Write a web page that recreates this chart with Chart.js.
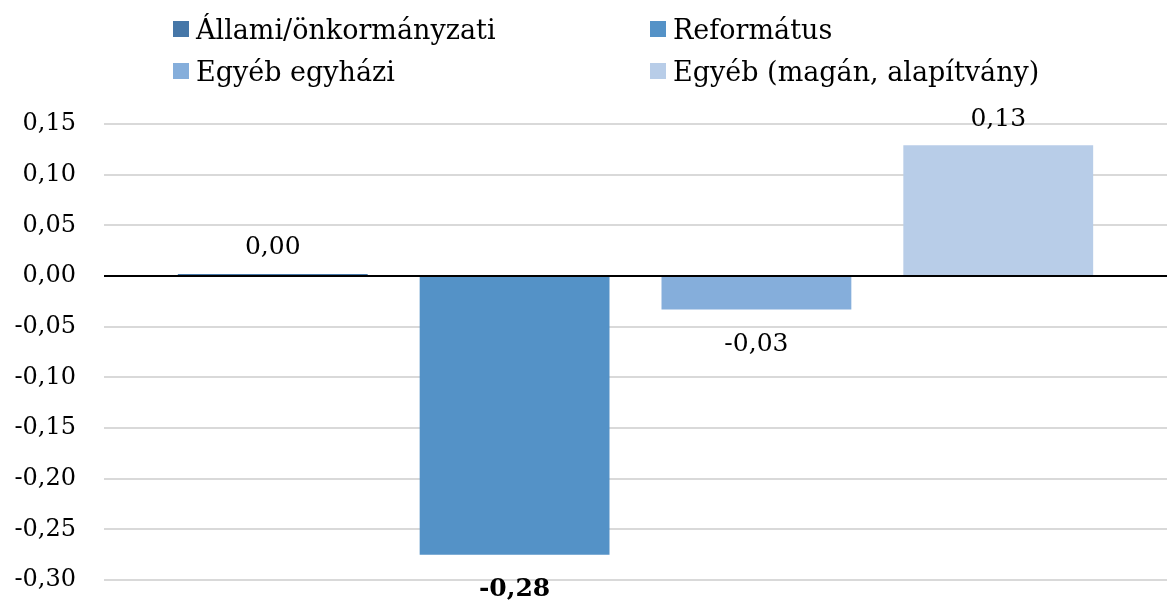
<!DOCTYPE html>
<html lang="hu">
<head>
<meta charset="utf-8">
<script src="https://cdn.jsdelivr.net/npm/chart.js@4/dist/chart.umd.min.js"></script>
<style>
    html, body { margin: 0; padding: 0; background: #fff; }
    #wrap { position: relative; width: 1167px; height: 601px; }
    #legend {
        position: absolute; left: 173px; top: 13px;
        display: grid; grid-template-columns: 477px 400px; row-gap: 10px;
        font-family: "DejaVu Serif", serif; font-size: 27px; color: #000;
    }
    .item { display: flex; align-items: center; height: 32px; white-space: nowrap; }
    .box { width: 16px; height: 16px; margin-right: 7px; }
</style>
</head>
<body>
<div id="wrap">
    <canvas id="chart" width="1167" height="601"></canvas>
    <div id="legend"></div>
</div>
<script>
// Adatok
const categories = [''];
const seriesNames = ['Állami/önkormányzati', 'Református', 'Egyéb egyházi', 'Egyéb (magán, alapítvány)'];
const seriesValues = [0.002, -0.275, -0.033, 0.129];
const yTicks = [0.15, 0.10, 0.05, 0.00, -0.05, -0.10, -0.15, -0.20, -0.25, -0.30];

const colors = ['#4677a8', '#5492c7', '#85aedb', '#b8cde8'];
const boldLabel = [false, true, false, false];

const fmt = v => (Math.round(v * 100) / 100).toFixed(2).replace('.', ',');
const FONT = '"DejaVu Serif", serif';

// Értékcímkék a hasábokon
const valueLabels = {
    id: 'valueLabels',
    afterDatasetsDraw(chart) {
        const ctx = chart.ctx;
        ctx.save();
        ctx.fillStyle = '#000';
        ctx.textAlign = 'center';
        ctx.textBaseline = 'middle';
        chart.data.datasets.forEach((ds, i) => {
            const meta = chart.getDatasetMeta(i);
            meta.data.forEach((bar, j) => {
                const v = ds.data[j];
                ctx.font = (boldLabel[i] ? 'bold ' : '') + '25px ' + FONT;
                const y = v >= 0 ? bar.y - 26 : bar.y + 35;
                ctx.fillText(fmt(v), bar.x, y);
            });
        });
        ctx.restore();
    }
};

const chart = new Chart(document.getElementById('chart'), {
    type: 'bar',
    data: {
        labels: categories,
        datasets: seriesNames.map((name, i) => ({
            label: name,
            data: [seriesValues[i]],
            backgroundColor: colors[i],
            borderWidth: 0,
            barPercentage: 0.785,
            categoryPercentage: 0.91
        }))
    },
    options: {
        responsive: false,
        animation: false,
        layout: { padding: { top: 124, bottom: 21, left: 0, right: 0 } },
        plugins: {
            legend: { display: false },
            tooltip: { enabled: false }
        },
        scales: {
            x: { display: false },
            y: {
                min: -0.30,
                max: 0.15,
                afterBuildTicks: axis => { axis.ticks = yTicks.map(v => ({ value: v })); },
                afterFit: axis => {
                    axis.width = 104;
                    axis.paddingTop = 0;
                    axis.paddingBottom = 0;
                },
                border: { display: false },
                grid: {
                    drawTicks: false,
                    lineWidth: 2,
                    color: ctx => Math.abs(ctx.tick.value) < 1e-9 ? '#000' : '#d9d9d9'
                },
                ticks: {
                    padding: 28,
                    color: '#000',
                    font: { family: FONT, size: 24 },
                    callback: v => fmt(v)
                }
            }
        }
    },
    plugins: [valueLabels]
});

// HTML jelmagyarázat (két oszlop)
const legendEl = document.getElementById('legend');
chart.data.datasets.forEach(ds => {
    const item = document.createElement('div');
    item.className = 'item';
    item.innerHTML = `<span class="box" style="background:${ds.backgroundColor}"></span><span>${ds.label}</span>`;
    legendEl.appendChild(item);
});
</script>
</body>
</html>
